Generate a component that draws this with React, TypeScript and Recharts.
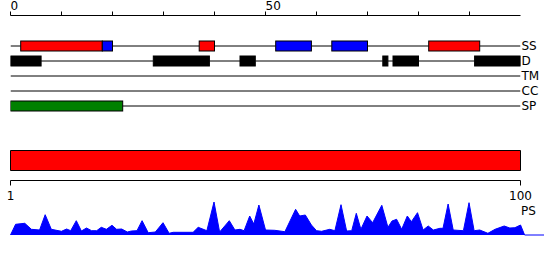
import { BarChart, Bar, AreaChart, Area, XAxis, YAxis } from 'recharts'

// feature tracks, positions along the sequence (0..100)
const TRACKS = ['SS', 'D', 'TM', 'CC', 'SP']

const SS_FEATURES: [number, number, string][] = [
  [2, 18, 'helix'], [18, 20, 'strand'], [37, 40, 'helix'],
  [52, 59, 'strand'], [63, 70, 'strand'], [82, 92, 'helix'],
]
const D_FEATURES: [number, number, string][] = [
  [0, 6, 'disorder'], [28, 39, 'disorder'], [45, 48, 'disorder'],
  [73, 74, 'disorder'], [75, 80, 'disorder'], [91, 100, 'disorder'],
]
const TM_FEATURES: [number, number, string][] = []
const CC_FEATURES: [number, number, string][] = []
const SP_FEATURES: [number, number, string][] = [[0, 22, 'signal']]

const TYPE_COLORS: Record<string, string> = {
  helix: '#ff0000', strand: '#0000ff', disorder: '#000000', signal: '#008000',
}

const TOP_TICKS = [0, 10, 20, 30, 40, 50, 60, 70, 80, 90]
const SEQ_RANGE: [number, number] = [1, 100]
const SEQ_TICKS = [1, 100]

// PS profile: position, score
const PS_POS = [
  0, 1.0, 2.8, 4.1, 5.7, 6.8, 8.0, 10.0, 11.0, 11.8,
  12.9, 13.9, 14.9, 15.9, 16.9, 17.8, 18.8, 19.9, 20.8, 21.8,
  22.9, 23.7, 24.8, 25.8, 27.0, 28.4, 29.9, 31.1, 31.9, 35.8,
  36.8, 38.5, 39.9, 41.0, 42.9, 44.0, 45.0, 45.8, 46.9, 47.7,
  48.7, 50.0, 51.8, 53.8, 55.9, 56.7, 57.8, 59.0, 60.0, 61.0,
  62.6, 63.6, 64.8, 65.9, 66.9, 67.8, 68.7, 69.9, 71.0, 72.8,
  74.0, 74.8, 75.7, 76.7, 77.8, 78.6, 79.8, 80.9, 81.9, 82.9,
  84.2, 84.8, 85.8, 86.8, 88.8, 89.9, 90.9, 92.0, 93.6, 95.0,
  96.8, 97.9, 98.9, 100, 100.8, 104.6,
]
const PS_VAL = [
  0, 10.7, 11.7, 5.7, 5, 20.3, 5.7, 3.7, 6, 4.3,
  14.3, 4, 7, 4.3, 4.3, 7.7, 5.7, 9.7, 5.7, 6,
  3, 4, 4.3, 14.3, 2.3, 3, 12.3, 1.7, 2.7, 2.7,
  7.7, 4.3, 33, 3, 14.3, 5, 5.7, 4.3, 19, 11,
  30, 5, 4.7, 3.3, 25.7, 19, 20, 10, 4.3, 3.7,
  5.7, 4.3, 30.3, 4, 4.3, 21.7, 5.7, 19, 12.3, 29.7,
  7.7, 14, 15.7, 5.7, 19, 13.3, 22.3, 5, 9, 5,
  6.7, 6.7, 31, 5, 4.3, 32.3, 4.3, 5, 1.7, 5.7,
  9, 7, 7.3, 10, 0, 0,
]

const FEATURES = [SS_FEATURES, D_FEATURES, TM_FEATURES, CC_FEATURES, SP_FEATURES]

// turn each track into stacked segments: gap, feature, gap, feature, ..., gap
const trackRows = TRACKS.map((track, t) => {
  const row: Record<string, any> = { track }
  let cursor = 0
  let k = 0
  FEATURES[t].forEach(([s, e, type]) => {
    row[`s${k++}`] = s - cursor
    row[`c${k}`] = TYPE_COLORS[type]
    row[`s${k++}`] = e - s
    cursor = e
  })
  row[`s${k++}`] = 100 - cursor
  return row
})
const SEG_COUNT = Math.max(...trackRows.map(r => Object.keys(r).filter(k => k.startsWith('s')).length))
const segKeys = Array.from({ length: SEG_COUNT }, (_, i) => `s${i}`)

const seqRows = [{ name: 'seq', range: SEQ_RANGE }]
const psData = PS_POS.map((pos, i) => ({ pos, ps: PS_VAL[i] }))

const FONT = '"DejaVu Sans", sans-serif'

function GapShape(props: any) {
  const { x, y, width, height } = props
  if (!width || width <= 0) return null
  const cy = y + height / 2
  return <line x1={x} x2={x + width} y1={cy} y2={cy} stroke="#000" strokeWidth={1} />
}

function makeFeatureShape(i: number) {
  return (props: any) => {
    const { x, y, width, height, payload } = props
    if (!width || width <= 0) return null
    return <rect x={x} y={y} width={width} height={height} fill={payload[`c${i}`]} stroke="#000" strokeWidth={1} />
  }
}

export default function App() {
  return (
    <div style={{ position: 'absolute', left: 0, top: 0, width: 550, height: 260, background: '#fff', fontFamily: FONT }}>
      {/* feature tracks */}
      <div style={{ position: 'absolute', left: 0, top: 0 }}>
        <BarChart width={550} height={120} data={trackRows} layout="vertical" barSize={10}
          margin={{ top: 0, right: 0, bottom: 0, left: 10.5 }}>
          <XAxis type="number" orientation="top" domain={[0, 100]} ticks={TOP_TICKS} interval={0}
            height={15.5} tickSize={4} tickMargin={2} allowDataOverflow
            tickFormatter={(v) => (v === 0 || v === 50 ? String(v) : '')}
            axisLine={{ stroke: '#000' }} tickLine={{ stroke: '#000' }}
            tick={{ fill: '#000', fontSize: 12, textAnchor: 'start' }} />
          <YAxis type="category" dataKey="track" orientation="right" width={29.5} interval={0}
            axisLine={false} tickLine={false} tickSize={0} tickMargin={1}
            padding={{ top: 22.5, bottom: 7 }}
            tick={{ fill: '#000', fontSize: 12 }} />
          {segKeys.map((k, i) => (
            <Bar key={k} dataKey={k} stackId="t" isAnimationActive={false}
              shape={i % 2 === 0 ? GapShape : makeFeatureShape(i)} />
          ))}
        </BarChart>
      </div>

      {/* whole sequence */}
      <div style={{ position: 'absolute', left: 0, top: 140 }}>
        <BarChart width={550} height={70.5} data={seqRows} layout="vertical" barSize={20}
          margin={{ top: 0.5, right: 29.5, bottom: 0, left: 10.5 }}>
          <XAxis type="number" domain={SEQ_RANGE} ticks={SEQ_TICKS} interval={0} height={30}
            tickSize={5} tickMargin={6} axisLine={{ stroke: '#000' }} tickLine={{ stroke: '#000' }}
            tick={{ fill: '#000', fontSize: 12 }} />
          <YAxis type="category" dataKey="name" hide />
          <Bar dataKey="range" fill="#ff0000" stroke="#000" strokeWidth={1} isAnimationActive={false} />
        </BarChart>
      </div>

      {/* PS profile */}
      <div style={{ position: 'absolute', left: 0, top: 190 }}>
        <AreaChart width={550} height={46} data={psData}
          margin={{ top: 10, right: 6, bottom: 1, left: 10.5 }}>
          <XAxis type="number" dataKey="pos" domain={[0, 104.6]} hide />
          <YAxis domain={[0, 35]} hide />
          <Area type="linear" dataKey="ps" fill="#0000ff" fillOpacity={1} stroke="#0000ff"
            strokeWidth={1} isAnimationActive={false} dot={false} />
        </AreaChart>
      </div>
      <div style={{ position: 'absolute', left: 521, top: 205, fontSize: 12, lineHeight: '12px', color: '#000' }}>PS</div>
    </div>
  )
}
